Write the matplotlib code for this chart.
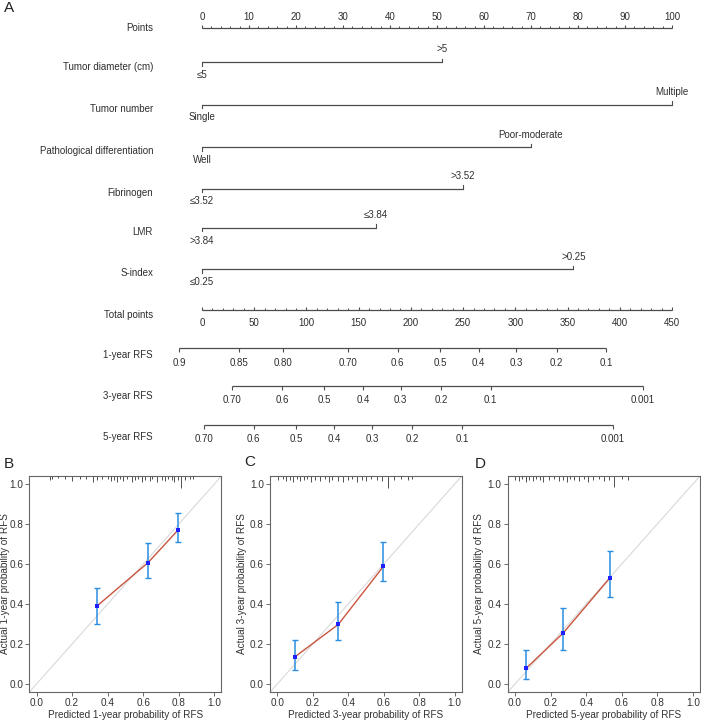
import matplotlib
matplotlib.use("Agg")
import matplotlib.pyplot as plt

plt.rcParams['font.family'] = ['Liberation Sans', 'DejaVu Sans']

# ---------------- data ----------------
points_major = list(range(0, 101, 10))
points_minor = list(range(0, 101, 2))

factor_names = ["Tumor diameter (cm)", "Tumor number", "Pathological differentiation",
                "Fibrinogen", "LMR", "S-index"]
low_labels = ["\u22645", "Single", "Well", "\u22643.52", ">3.84", "\u22640.25"]
high_labels = [">5", "Multiple", "Poor-moderate", ">3.52", "\u22643.84", ">0.25"]
high_points = [51, 100, 70, 55.5, 37, 79]

total_max = 450
total_major = list(range(0, 451, 50))
total_minor = list(range(0, 451, 10))

rfs1_labels = ["0.9", "0.85", "0.80", "0.70", "0.6", "0.5", "0.4", "0.3", "0.2", "0.1"]
rfs1_tp = [-21.7, 35.7, 77.8, 139.5, 187.5, 228.0, 265.0, 301.0, 339.6, 387.0]
rfs3_labels = ["0.70", "0.6", "0.5", "0.4", "0.3", "0.2", "0.1", "0.001"]
rfs3_tp = [29.0, 76.8, 117.1, 154.2, 190.3, 228.7, 276.3, 422.0]
rfs5_labels = ["0.70", "0.6", "0.5", "0.4", "0.3", "0.2", "0.1", "0.001"]
rfs5_tp = [1.9, 49.5, 90.0, 126.8, 163.1, 201.5, 249.0, 393.5]

# calibration panels
cal_years = ["1-year", "3-year", "5-year"]
cal_letters = ["B", "C", "D"]
cal_pred = [[0.340, 0.627, 0.798], [0.098, 0.344, 0.598], [0.062, 0.271, 0.533]]
cal_obs = [[0.390, 0.607, 0.772], [0.135, 0.298, 0.588], [0.078, 0.255, 0.530]]
cal_lo = [[0.300, 0.528, 0.708], [0.068, 0.218, 0.516], [0.025, 0.172, 0.437]]
cal_hi = [[0.478, 0.703, 0.855], [0.218, 0.408, 0.708], [0.168, 0.378, 0.665]]

rug_pos = [
    [0.076, 0.089, 0.12, 0.16, 0.198, 0.245, 0.28, 0.32, 0.339, 0.37, 0.40, 0.419, 0.438, 0.451,
     0.47, 0.488, 0.51, 0.535, 0.554, 0.573, 0.592, 0.61, 0.638, 0.651, 0.676, 0.704, 0.723,
     0.741, 0.76, 0.775, 0.794, 0.811, 0.835, 0.863, 0.882],
    [0.005, 0.03, 0.05, 0.07, 0.09, 0.11, 0.13, 0.15, 0.17, 0.19, 0.21, 0.24, 0.27, 0.29, 0.31,
     0.34, 0.37, 0.40, 0.42, 0.45, 0.48, 0.50, 0.53, 0.56, 0.59, 0.622, 0.66, 0.70, 0.735, 0.76],
    [0.0, 0.02, 0.04, 0.06, 0.08, 0.10, 0.12, 0.14, 0.16, 0.19, 0.22, 0.25, 0.27, 0.29, 0.31,
     0.33, 0.36, 0.39, 0.41, 0.44, 0.47, 0.50, 0.53, 0.557, 0.60, 0.635],
]
rug_h = [
    [0.020, 0.016, 0.010, 0.014, 0.024, 0.016, 0.014, 0.028, 0.020, 0.016, 0.014, 0.024, 0.020,
     0.028, 0.016, 0.024, 0.014, 0.028, 0.020, 0.016, 0.030, 0.020, 0.024, 0.016, 0.028, 0.020,
     0.024, 0.016, 0.020, 0.028, 0.020, 0.060, 0.020, 0.016, 0.014],
    [0.020, 0.016, 0.024, 0.020, 0.028, 0.016, 0.024, 0.020, 0.016, 0.028, 0.020, 0.024, 0.016,
     0.028, 0.020, 0.024, 0.030, 0.020, 0.016, 0.028, 0.020, 0.024, 0.016, 0.020, 0.024, 0.060,
     0.020, 0.016, 0.020, 0.016],
    [0.020, 0.024, 0.016, 0.028, 0.020, 0.024, 0.016, 0.020, 0.028, 0.020, 0.016, 0.024, 0.020,
     0.028, 0.016, 0.020, 0.024, 0.016, 0.028, 0.020, 0.016, 0.024, 0.020, 0.055, 0.016, 0.020],
]

# ---------------- layout ----------------
W, H = 701, 720
fig = plt.figure(figsize=(W / 100, H / 100), dpi=100)

PX0, PX100 = 202.0, 672.0          # pixel x of 0 and 100 points
ppx = (PX100 - PX0) / 100.0
ax = fig.add_axes([0, 0, 1, 1])
ax.set_xlim((0 - PX0) / ppx, (W - PX0) / ppx)
ax.set_ylim(H, 0)
ax.axis("off")

def tp2pt(t):
    return t * 100.0 / total_max

LC = "#4d4d4d"
TC = "#2e2e2e"
FS = 7.0
NAME_X = (153 - PX0) / ppx
LW = 0.9

ax.text((4 - PX0) / ppx, 8.5, "A", fontsize=11, color="#222222", ha="left", va="center")

# Points axis
y = 28
ax.plot([points_major[0], points_major[-1]], [y, y], color=LC, lw=LW, solid_capstyle="butt")
ax.vlines(points_minor, y - 2.5, y, color=LC, lw=0.7)
ax.vlines(points_major, y - 3.5, y, color=LC, lw=0.8)
for v in points_major:
    ax.text(v, 17, str(v), fontsize=FS, color=TC, ha="center", va="center")
ax.text(NAME_X, 28, "Points", fontsize=FS, color=TC, ha="right", va="center")

# factor rows
line_y = [62, 104.5, 147, 188.5, 227.5, 269]
for i, nm in enumerate(factor_names):
    ly = line_y[i]
    hp = high_points[i]
    ax.plot([0, hp], [ly, ly], color=LC, lw=LW, solid_capstyle="butt")
    ax.plot([0, 0], [ly, ly + 3.5], color=LC, lw=0.8)
    ax.plot([hp, hp], [ly, ly - 3.5], color=LC, lw=0.8)
    ax.text(0, ly + 13, low_labels[i], fontsize=FS, color=TC, ha="center", va="center")
    ax.text(hp, ly - 12.5, high_labels[i], fontsize=FS, color=TC, ha="center", va="center")
    ax.text(NAME_X, ly + 4.5, nm, fontsize=FS, color=TC, ha="right", va="center")

# total points
y = 310
ax.plot([tp2pt(total_major[0]), tp2pt(total_major[-1])], [y, y], color=LC, lw=LW,
        solid_capstyle="butt")
ax.vlines([tp2pt(v) for v in total_minor], y - 2.5, y, color=LC, lw=0.7)
ax.vlines([tp2pt(v) for v in total_major], y - 3.5, y, color=LC, lw=0.8)
for v in total_major:
    ax.text(tp2pt(v), 322.5, str(v), fontsize=FS, color=TC, ha="center", va="center")
ax.text(NAME_X, 314.5, "Total points", fontsize=FS, color=TC, ha="right", va="center")

# RFS axes
rfs_rows = [("1-year RFS", rfs1_labels, rfs1_tp, 348.3, 362.5, 354.7),
            ("3-year RFS", rfs3_labels, rfs3_tp, 386.3, 400.0, 395.7),
            ("5-year RFS", rfs5_labels, rfs5_tp, 424.7, 438.5, 436.7)]
for nm, labs, tps, ly, lab_y, nm_y in rfs_rows:
    xs = [tp2pt(t) for t in tps]
    ax.plot([xs[0], xs[-1]], [ly, ly], color=LC, lw=LW, solid_capstyle="butt")
    ax.vlines(xs, ly, ly + 4, color=LC, lw=0.8)
    for xx, lb in zip(xs, labs):
        ax.text(xx, lab_y, lb, fontsize=FS, color=TC, ha="center", va="center")
    ax.text(NAME_X, nm_y, nm, fontsize=FS, color=TC, ha="right", va="center")

# ---------------- calibration panels ----------------
panel_px = [(29.4, 221.5), (270.2, 461.8), (507.9, 700.0)]
ylabel_right_px = [10.0, 247.0, 484.5]
letter_px = [(4, 463.5), (244, 462), (475, 464)]
TOP, BOT = 476.0, 692.0
for k in range(3):
    l, r = panel_px[k]
    cax = fig.add_axes([l / W, 1 - BOT / H, (r - l) / W, (BOT - TOP) / H])
    cax.set_xlim(-0.04, 1.04)
    cax.set_ylim(-0.04, 1.04)
    cax.plot([-0.04, 1.04], [-0.04, 1.04], color="#d9d9d9", lw=0.8, zorder=1)
    cax.plot(cal_pred[k], cal_obs[k], color="#c9553e", lw=1.0, zorder=2)
    yerr = [[o - lo for o, lo in zip(cal_obs[k], cal_lo[k])],
            [hi - o for o, hi in zip(cal_obs[k], cal_hi[k])]]
    cax.errorbar(cal_pred[k], cal_obs[k], yerr=yerr, fmt="none", ecolor="#2b8ee0",
                 elinewidth=1.1, capsize=2.2, capthick=1.0, zorder=3)
    cax.plot(cal_pred[k], cal_obs[k], "s", color="#2020ff", ms=2.6, zorder=4, mew=0)
    cax.vlines(rug_pos[k], [1.04 - h for h in rug_h[k]], 1.04, color="#333333", lw=0.6,
               zorder=2)
    ticks = [0.0, 0.2, 0.4, 0.6, 0.8, 1.0]
    cax.set_xticks(ticks)
    cax.set_yticks(ticks)
    cax.set_xticklabels([f"{t:.1f}" for t in ticks])
    cax.set_yticklabels([f"{t:.1f}" for t in ticks])
    cax.tick_params(axis="both", length=3, width=0.6, color="#555555", labelsize=7.2,
                    labelcolor="#333333", pad=1.5)
    for sp in cax.spines.values():
        sp.set_color("#666666")
        sp.set_linewidth(0.8)
    cax.set_xlabel(f"Predicted {cal_years[k]} probability of RFS", fontsize=7.2,
                   color="#333333", labelpad=1.5)
    cax.set_ylabel(f"Actual {cal_years[k]} probability of RFS", fontsize=7.2,
                   color="#333333")
    cax.yaxis.set_label_coords((ylabel_right_px[k] - l) / (r - l), 0.5)
    lx, lyy = letter_px[k]
    fig.text(lx / W, 1 - lyy / H, cal_letters[k], fontsize=11, color="#222222",
             ha="left", va="center")

fig.savefig("out.png", dpi=100)
